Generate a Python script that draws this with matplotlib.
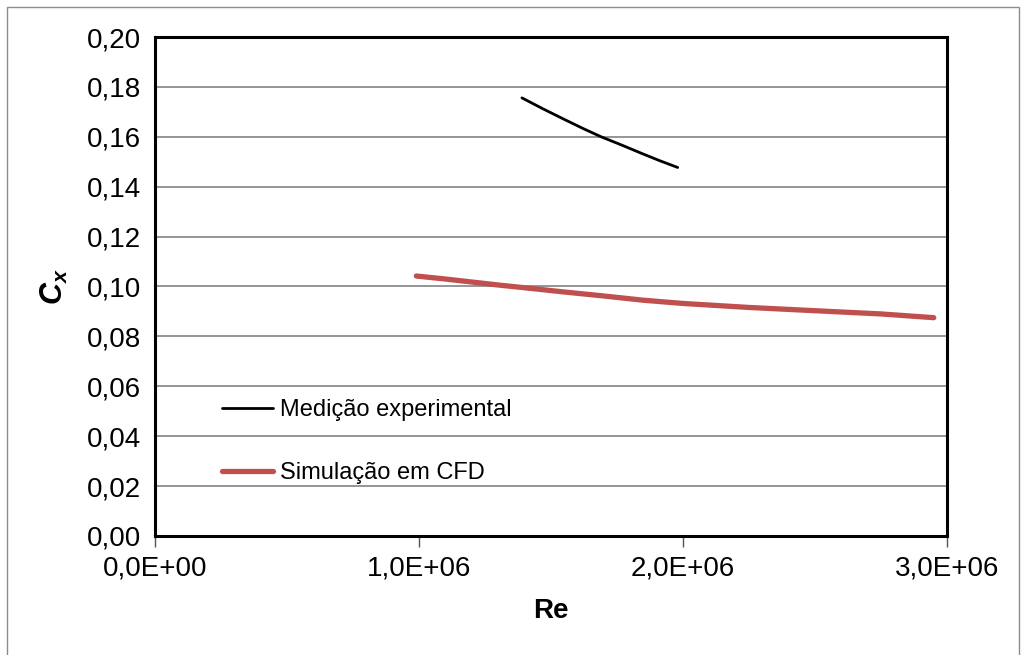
import matplotlib
matplotlib.use("Agg")
import matplotlib.pyplot as plt
from matplotlib.patches import Rectangle
from matplotlib.ticker import FuncFormatter, MultipleLocator

# Medição experimental
re_exp = [1.39e6, 1.47e6, 1.55e6, 1.62e6, 1.69e6, 1.77e6, 1.84e6, 1.91e6, 1.98e6]
cx_exp = [0.1756, 0.1712, 0.1670, 0.1634, 0.1600, 0.1566, 0.1535, 0.1505, 0.1477]

# Simulação em CFD
re_cfd = [0.99e6, 1.1e6, 1.2e6, 1.3e6, 1.4e6, 1.55e6, 1.7e6, 1.85e6, 2.0e6,
          2.25e6, 2.5e6, 2.75e6, 2.95e6]
cx_cfd = [0.1042, 0.1030, 0.1018, 0.1006, 0.0995, 0.0978, 0.0962, 0.0945, 0.0932,
          0.0916, 0.0903, 0.0890, 0.0875]

plt.rcParams["font.family"] = ["Liberation Sans", "DejaVu Sans"]
plt.rcParams["mathtext.fontset"] = "custom"
plt.rcParams["mathtext.it"] = "Liberation Sans:italic:bold"
plt.rcParams["mathtext.rm"] = "Liberation Sans:bold"

fig = plt.figure(figsize=(10.21, 6.55), dpi=100)
ax = fig.add_axes([0.1518, 0.1817, 0.7757, 0.7618])

# outer chart border
fig.patches.append(Rectangle((7 / 1021, -0.05), 1012 / 1021, 1.05 - 7 / 655,
                             transform=fig.transFigure, fill=False,
                             edgecolor="#8c8c8c", linewidth=1.0))

ax.plot(re_exp, cx_exp, color="black", lw=2.0, label="Medição experimental",
        solid_capstyle="round", solid_joinstyle="round")
ax.plot(re_cfd, cx_cfd, color="#C0504D", lw=3.8, label="Simulação em CFD",
        solid_capstyle="round", solid_joinstyle="round")

ax.set_xlim(0, 3e6)
ax.set_ylim(0, 0.20)
ax.xaxis.set_major_locator(MultipleLocator(1e6))
ax.yaxis.set_major_locator(MultipleLocator(0.02))
ax.xaxis.set_major_formatter(FuncFormatter(
    lambda v, p: f"{v:.1E}".replace(".", ",")))
ax.yaxis.set_major_formatter(FuncFormatter(
    lambda v, p: f"{v:.2f}".replace(".", ",")))

ax.grid(axis="y", color="#8c8c8c", lw=1.3)
ax.set_axisbelow(True)
for s in ax.spines.values():
    s.set_linewidth(2.2)
    s.set_color("black")

ax.tick_params(axis="x", direction="out", length=8, width=1, color="#555555",
               labelsize=20, pad=6)
ax.tick_params(axis="y", length=0, labelsize=20, pad=10)

ax.set_xlabel("Re", fontsize=20, fontweight="bold", labelpad=12)
ax.set_ylabel(r"$C_x$", fontsize=22, labelpad=12)

ax.legend(loc="upper left", bbox_to_anchor=(0.0846, 0.2746), frameon=False,
          fontsize=17, handlelength=2.15, handletextpad=0.3, labelspacing=1.75,
          borderpad=0, borderaxespad=0)

fig.savefig("out.png", dpi=100)
